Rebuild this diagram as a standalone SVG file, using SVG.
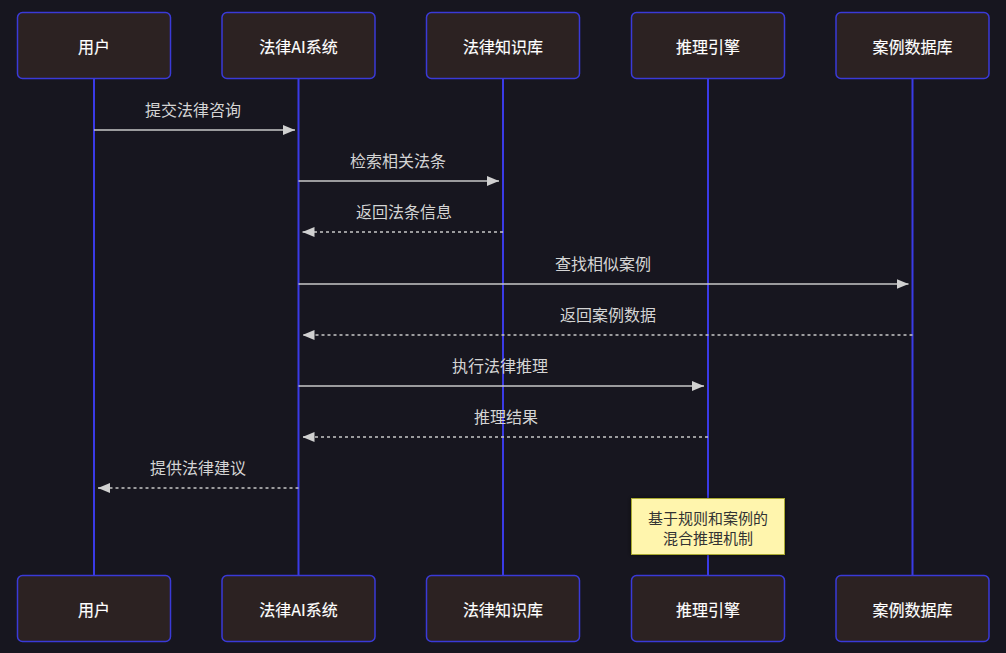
<svg xmlns="http://www.w3.org/2000/svg" width="1006" height="653" viewBox="0 0 1006 653">
<defs>
<marker id="ah" viewBox="0 0 12 10" refX="12" refY="5" markerWidth="12" markerHeight="10" markerUnits="userSpaceOnUse" orient="auto">
<path d="M0,0 L12,5 L0,10 z" fill="#d0d0d0"/>
</marker>
<filter id="sh" x="-20%" y="-20%" width="140%" height="140%">
<feDropShadow dx="0" dy="0" stdDeviation="2.5" flood-color="#000" flood-opacity="0.5"/>
</filter>
</defs>
<style>
.box{fill:#2c2222;stroke:#3a3ad8;stroke-width:1.5}
.life{stroke:#3a3ae6;stroke-width:2}
.lbl{font-family:"Noto Sans CJK SC","Liberation Sans",sans-serif;font-size:16px;font-weight:normal;fill:#ffffff;stroke:#ffffff;stroke-width:0.15;text-anchor:middle;dominant-baseline:central}
.msg{font-family:"Noto Sans CJK SC","Liberation Sans",sans-serif;font-size:16px;fill:#d4d4d4;text-anchor:middle;dominant-baseline:central}
.sol{stroke:#c8c8c8;stroke-width:1.5;fill:none}
.dash{stroke:#c8c8c8;stroke-width:1.5;fill:none;stroke-dasharray:3,3}
.note{fill:#fff5ad;stroke:#aaaa33;stroke-width:1}
.ntxt{font-family:"Noto Sans CJK SC","Liberation Sans",sans-serif;font-size:15px;fill:#333333;text-anchor:middle;dominant-baseline:central}
</style>
<rect width="1006" height="653" fill="#17161f"/>
<g id="lifelines">
<line class="life" x1="94" y1="79" x2="94" y2="576"/>
<line class="life" x1="298.5" y1="79" x2="298.5" y2="576"/>
<line class="life" x1="503" y1="79" x2="503" y2="576"/>
<line class="life" x1="708" y1="79" x2="708" y2="576"/>
<line class="life" x1="912.5" y1="79" x2="912.5" y2="576"/>
</g>
<g id="actor-user-top"><rect class="box" x="17.5" y="12.5" width="153" height="66" rx="5"/><text class="lbl" x="94" y="45.5">用户</text></g>
<g id="actor-ai-top"><rect class="box" x="222" y="12.5" width="153" height="66" rx="5"/><text class="lbl" x="298.5" y="45.5">法律AI系统</text></g>
<g id="actor-kb-top"><rect class="box" x="426.5" y="12.5" width="153" height="66" rx="5"/><text class="lbl" x="503" y="45.5">法律知识库</text></g>
<g id="actor-engine-top"><rect class="box" x="631.5" y="12.5" width="153" height="66" rx="5"/><text class="lbl" x="708" y="45.5">推理引擎</text></g>
<g id="actor-case-top"><rect class="box" x="836" y="12.5" width="153" height="66" rx="5"/><text class="lbl" x="912.5" y="45.5">案例数据库</text></g>
<g id="actor-user-bottom"><rect class="box" x="17.5" y="575.5" width="153" height="66" rx="5"/><text class="lbl" x="94" y="608.5">用户</text></g>
<g id="actor-ai-bottom"><rect class="box" x="222" y="575.5" width="153" height="66" rx="5"/><text class="lbl" x="298.5" y="608.5">法律AI系统</text></g>
<g id="actor-kb-bottom"><rect class="box" x="426.5" y="575.5" width="153" height="66" rx="5"/><text class="lbl" x="503" y="608.5">法律知识库</text></g>
<g id="actor-engine-bottom"><rect class="box" x="631.5" y="575.5" width="153" height="66" rx="5"/><text class="lbl" x="708" y="608.5">推理引擎</text></g>
<g id="actor-case-bottom"><rect class="box" x="836" y="575.5" width="153" height="66" rx="5"/><text class="lbl" x="912.5" y="608.5">案例数据库</text></g>
<g id="connectors">
<line class="sol" x1="94" y1="130" x2="295" y2="130" marker-end="url(#ah)"/>
<line class="sol" x1="298.5" y1="181" x2="499" y2="181" marker-end="url(#ah)"/>
<line class="dash" x1="503" y1="232" x2="302.5" y2="232" marker-end="url(#ah)"/>
<line class="sol" x1="298.5" y1="284" x2="908.5" y2="284" marker-end="url(#ah)"/>
<line class="dash" x1="912.5" y1="335" x2="302.5" y2="335" marker-end="url(#ah)"/>
<line class="sol" x1="298.5" y1="386" x2="704" y2="386" marker-end="url(#ah)"/>
<line class="dash" x1="708" y1="437" x2="302.5" y2="437" marker-end="url(#ah)"/>
<line class="dash" x1="298.5" y1="488" x2="98" y2="488" marker-end="url(#ah)"/>
</g>
<g id="labels">
<text class="msg" x="193" y="108.5">提交法律咨询</text>
<text class="msg" x="398" y="159.5">检索相关法条</text>
<text class="msg" x="404" y="211">返回法条信息</text>
<text class="msg" x="603" y="262.5">查找相似案例</text>
<text class="msg" x="608" y="313.5">返回案例数据</text>
<text class="msg" x="500" y="364.5">执行法律推理</text>
<text class="msg" x="506" y="415.5">推理结果</text>
<text class="msg" x="198" y="466.5">提供法律建议</text>
</g>
<g id="note">
<rect class="note" x="631.5" y="498.5" width="153" height="56" filter="url(#sh)"/>
<text class="ntxt" x="708" y="517.5">基于规则和案例的</text>
<text class="ntxt" x="708" y="537">混合推理机制</text>
</g>
</svg>
